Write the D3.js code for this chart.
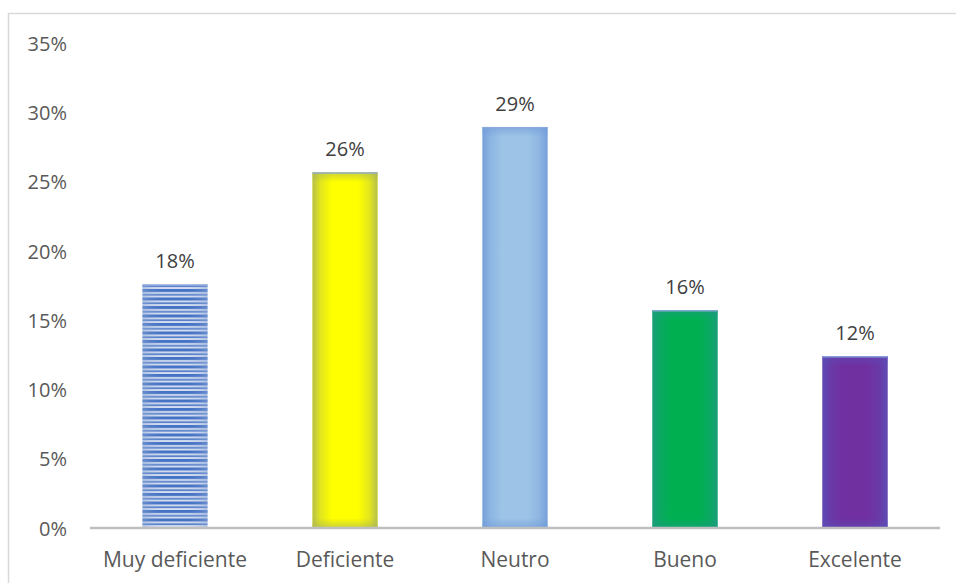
<!DOCTYPE html>
<html>
<head>
<meta charset="utf-8">
<script src="https://cdn.jsdelivr.net/npm/d3@7/dist/d3.min.js"></script>
<style>
  html, body { margin: 0; padding: 0; background: #fff; }
  svg { display: block; font-family: "Open Sans", sans-serif; }
</style>
</head>
<body>
<svg id="chart" width="956" height="583"></svg>
<script>
// Rating categories and their share of responses
const categories = ["Muy deficiente", "Deficiente", "Neutro", "Bueno", "Excelente"];
const shares = [0.1759, 0.2567, 0.2894, 0.1573, 0.1241];
const yTicks = [0, 0.05, 0.10, 0.15, 0.20, 0.25, 0.30, 0.35];

// Fill styling per bar: centre colour and edge colour of the shaded fill
const centreColors = ["#d5def0", "#ffff00", "#9dc3e6", "#00b050", "#7030a0"];
const edgeColors = ["#8fa9d8", "#a9b45a", "#6f9ad9", "#1e9a82", "#5a4fb8"];

const W = 956, H = 583;
const svg = d3.select("#chart");
const defs = svg.append("defs");

// chart frame
svg.append("rect")
  .attr("x", 8.5).attr("y", 13.5)
  .attr("width", W + 20).attr("height", H + 20)
  .attr("fill", "#fff").attr("stroke", "#d9d9d9").attr("stroke-width", 1.5);

const x = d3.scaleBand()
  .domain(categories)
  .range([90, 940])
  .paddingInner(0.6176)
  .paddingOuter(0.3088);

const y = d3.scaleLinear().domain([0, 0.35]).range([528, 43]);

const pct = d3.format(".0%");

// y-axis labels (no axis line or gridlines)
const yAxis = d3.axisLeft(y).tickValues(yTicks).tickFormat(pct).tickSize(0).tickPadding(0);
const gy = svg.append("g").attr("transform", "translate(67,0)").call(yAxis);
gy.select(".domain").remove();
gy.selectAll("text")
  .attr("font-family", "Open Sans, sans-serif")
  .attr("font-size", 20).attr("fill", "#595959").attr("dy", "0.36em");

// striped pattern for the first bar
const pat = defs.append("pattern")
  .attr("id", "stripes").attr("patternUnits", "userSpaceOnUse")
  .attr("width", 10).attr("height", 8.5);
pat.append("rect").attr("width", 10).attr("height", 8.5).attr("fill", "#d5def0");
pat.append("rect").attr("y", 0).attr("width", 10).attr("height", 3).attr("fill", "#4472c4");
pat.append("rect").attr("y", 5).attr("width", 10).attr("height", 1.5).attr("fill", "#4472c4");

const edgeBand = 10;
const bars = svg.append("g");

categories.forEach((c, i) => {
  const x0 = x(c), bw = x.bandwidth();
  const y0 = y(shares[i]), h = y(0) - y0;
  const edge = edgeColors[i];
  const eo = i === 0 ? 0.5 : 0.85;

  // horizontal edge shading
  const gh = defs.append("linearGradient").attr("id", "gh" + i)
    .attr("x1", 0).attr("x2", 1).attr("y1", 0).attr("y2", 0);
  gh.append("stop").attr("offset", 0).attr("stop-color", edge).attr("stop-opacity", eo);
  gh.append("stop").attr("offset", 0.12).attr("stop-color", edge).attr("stop-opacity", eo * 0.4);
  gh.append("stop").attr("offset", 0.3).attr("stop-color", edge).attr("stop-opacity", 0);
  gh.append("stop").attr("offset", 0.7).attr("stop-color", edge).attr("stop-opacity", 0);
  gh.append("stop").attr("offset", 0.88).attr("stop-color", edge).attr("stop-opacity", eo * 0.4);
  gh.append("stop").attr("offset", 1).attr("stop-color", edge).attr("stop-opacity", eo);

  // vertical edge shading, band thickness fixed in pixels
  const f = Math.min(0.45, edgeBand / h);
  const gv = defs.append("linearGradient").attr("id", "gv" + i)
    .attr("x1", 0).attr("x2", 0).attr("y1", 0).attr("y2", 1);
  gv.append("stop").attr("offset", 0).attr("stop-color", edge).attr("stop-opacity", i === 0 ? 0 : 0.6);
  gv.append("stop").attr("offset", f).attr("stop-color", edge).attr("stop-opacity", 0);
  gv.append("stop").attr("offset", 1 - f).attr("stop-color", edge).attr("stop-opacity", 0);
  gv.append("stop").attr("offset", 1).attr("stop-color", edge).attr("stop-opacity", i === 0 ? 0 : 0.6);

  const g = bars.append("g");
  g.append("rect").attr("x", x0).attr("y", y0).attr("width", bw).attr("height", h)
    .attr("fill", i === 0 ? "url(#stripes)" : centreColors[i]);
  g.append("rect").attr("x", x0).attr("y", y0).attr("width", bw).attr("height", h)
    .attr("fill", "url(#gh" + i + ")");
  g.append("rect").attr("x", x0).attr("y", y0).attr("width", bw).attr("height", h)
    .attr("fill", "url(#gv" + i + ")");
  // thin light rim along the top
  g.append("rect").attr("x", x0).attr("y", y0).attr("width", bw).attr("height", 1.5)
    .attr("fill", "#8eaadb").attr("opacity", 0.9);

  // value label
  svg.append("text")
    .attr("x", x0 + bw / 2).attr("y", y0 - 16)
    .attr("text-anchor", "middle")
    .attr("font-size", 20).attr("fill", "#404040")
    .text(pct(shares[i]));
});

// baseline axis
const xAxis = d3.axisBottom(x).tickSize(0).tickPadding(0);
const gx = svg.append("g").attr("transform", "translate(0,528)").call(xAxis);
gx.select(".domain").attr("stroke", "#bfbfbf").attr("stroke-width", 2.6)
  .attr("d", "M90,0H940");
gx.selectAll("text")
  .attr("font-family", "Open Sans, sans-serif")
  .attr("font-size", 21).attr("fill", "#595959")
  .attr("dy", 0).attr("y", 39);
</script>
</body>
</html>
